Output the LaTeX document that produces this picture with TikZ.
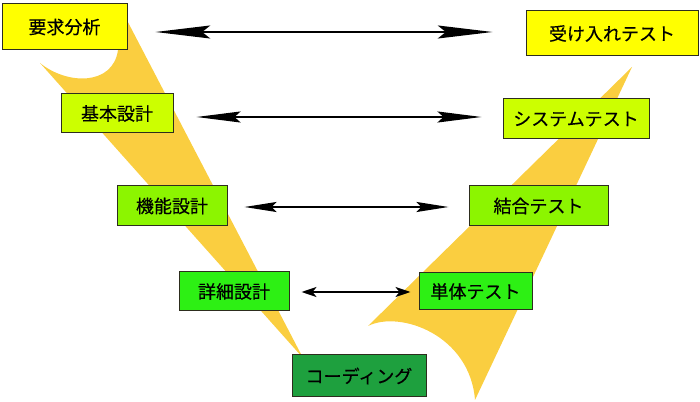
\documentclass[tikz,border=0pt]{standalone}
\usepackage{fontspec}
\newfontfamily\jp[FakeBold=0.35]{Noto Sans CJK JP}
\usetikzlibrary{arrows.meta}
\definecolor{band}{RGB}{250,206,64}
\definecolor{cY}{RGB}{255,255,0}
\definecolor{cYG}{RGB}{204,255,0}
\definecolor{cLG}{RGB}{140,245,0}
\definecolor{cG}{RGB}{45,240,20}
\definecolor{cDG}{RGB}{30,160,62}
\definecolor{edge}{RGB}{45,45,30}
\begin{document}
\begin{tikzpicture}[x=0.75pt,y=-0.75pt,
  box/.style={draw=edge,line width=0.75pt,inner sep=0pt,font=\jp\fontsize{13.5}{16}\selectfont},
  arr/.style={line width=1.5pt,black}]
\useasboundingbox (0,0) rectangle (700,402);
% yellow V bands
\fill[band] (40,63) .. controls (67,85) and (113,86) .. (118,50) -- (119,5) -- (303,358) -- cycle;
\fill[band] (632,67) -- (368,326) .. controls (400,310) and (470,335) .. (475,400) -- cycle;
% boxes
\node[box,fill=cY,minimum width=93.75pt,minimum height=34.5pt] (A) at (64.5,27) {要求分析};
\node[box,fill=cYG,minimum width=84pt,minimum height=29.25pt] (B) at (117,113.5) {基本設計};
\node[box,fill=cLG,minimum width=82.5pt,minimum height=30pt] (C) at (172,206) {機能設計};
\node[box,fill=cG,minimum width=82.5pt,minimum height=29.25pt] (D) at (234,291.5) {詳細設計};
\node[box,fill=cDG,minimum width=100.5pt,minimum height=31.5pt] (E) at (359,376) {コーディング};
\node[box,fill=cG,minimum width=84.75pt,minimum height=27.75pt] (F) at (475.5,291.5) {単体テスト};
\node[box,fill=cLG,minimum width=104.25pt,minimum height=30pt] (G) at (538.5,206) {結合テスト};
\node[box,fill=cYG,minimum width=109.5pt,minimum height=30pt] (H) at (576,119) {システムテスト};
\node[box,fill=cY,minimum width=129pt,minimum height=33.75pt] (I) at (612,33.5) {受け入れテスト};
% arrows
\draw[arr,{Stealth[length=41pt,width=9.75pt,inset=6pt]}-{Stealth[length=41pt,width=9.75pt,inset=6pt]},
  shorten <=21pt, shorten >=24.75pt] (A.east |- 0,32) -- (I.west |- 0,32);
\draw[arr,{Stealth[length=33pt,width=8.25pt,inset=4.5pt]}-{Stealth[length=33pt,width=8.25pt,inset=4.5pt]},
  shorten <=17.25pt, shorten >=15.75pt] (B.east |- 0,117) -- (H.west |- 0,117);
\draw[arr,{Stealth[length=24pt,width=7.5pt,inset=3.75pt]}-{Stealth[length=24pt,width=7.5pt,inset=3.75pt]},
  shorten <=12.75pt, shorten >=15pt] (C.east |- 0,207) -- (G.west |- 0,207);
\draw[arr,{Stealth[length=11.25pt,width=7.5pt,inset=3pt]}-{Stealth[length=11.25pt,width=7.5pt,inset=3pt]},
  shorten <=9pt, shorten >=6pt] (D.east |- 0,292) -- (F.west |- 0,292);
\end{tikzpicture}
\end{document}
